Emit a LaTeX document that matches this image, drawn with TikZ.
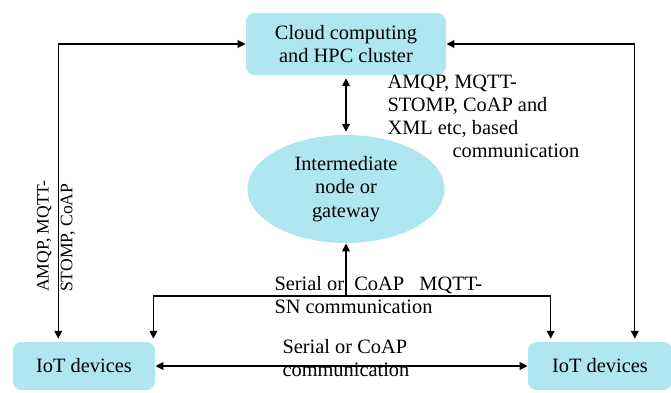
\documentclass[tikz,border=0pt]{standalone}
\usepackage{fontspec}
\setmainfont{Liberation Serif}
\usepackage{xcolor}
\usepackage{tikz}
\usetikzlibrary{shapes,arrows,positioning,calc,arrows.meta}
\definecolor{boxcyan}{RGB}{176,230,240}

\begin{document}
\begin{tikzpicture}[auto, node distance=2cm, line width=0.75pt,
    >={Triangle[length=5.5pt,width=5.5pt]},
    unit/.style={rectangle, rounded corners=6pt, fill=boxcyan, align=center},
    lbl/.style={align=left, inner sep=0pt}]
    \useasboundingbox (0,0) rectangle (16.775,9.8);
    \fontsize{14.5}{16.5}\selectfont

    % Cloud and gateway
    \node[unit, minimum width=5cm, minimum height=1.55cm] (cloud) at (8.65,8.7) {Cloud computing\\and HPC cluster};
    \node[ellipse, fill=boxcyan, minimum width=4.93cm, minimum height=2.7cm, align=center, inner sep=0pt] (gw) at (8.65,5.075) {Intermediate\\node or\\gateway};

    % IoT devices
    \node[unit, minimum width=3.55cm, minimum height=1.2cm] (iotL) at (2.1,0.65) {IoT devices};
    \node[unit, minimum width=3.6cm, minimum height=1.2cm] (iotR) at (15.0,0.65) {IoT devices};

    % Connectors
    \coordinate (dropLL) at ($(iotL.north west)!0.32!(iotL.north east)$);
    \coordinate (dropLR) at ($(iotL.north west)!0.985!(iotL.north east)$);
    \coordinate (dropRL) at ($(iotR.north west)!0.16!(iotR.north east)$);
    \coordinate (dropRR) at ($(iotR.north west)!0.74!(iotR.north east)$);
    \coordinate (bus) at (8.65,2.4);
    \draw[<->] (cloud.west) -| ([yshift=2pt]dropLL);
    \draw[<->] (cloud.east) -| ([yshift=2pt]dropRR);
    \draw[<->] ([yshift=-2pt]cloud.south) -- ([yshift=2pt]gw.north);
    \draw[->] (bus) -- (gw.south);
    \draw[->] (bus) -| ([yshift=2pt]dropLR);
    \draw[->] (bus) -| ([yshift=2pt]dropRL);
    \draw[<->] (iotL.east) -- (iotR.west);

    % Labels
    \node[lbl, anchor=north west] (topLbl) at (9.675,7.95) {AMQP, MQTT-\\STOMP, CoAP and\\XML etc, based\\\hspace*{1.625cm}communication};
    \node[lbl, rotate=90, font=\fontsize{12.5}{17}\selectfont] (sideLbl) at (1.4,3.9) {AMQP, MQTT-\\STOMP, CoAP};
    \node[lbl, anchor=north west] (busLbl) at (6.85,2.9) {Serial or\ \ CoAP\ \ \ MQTT-\\SN communication};
    \node[lbl, anchor=north west] (peerLbl) at (7.05,1.33) {Serial or CoAP\\communication};
\end{tikzpicture}
\end{document}
